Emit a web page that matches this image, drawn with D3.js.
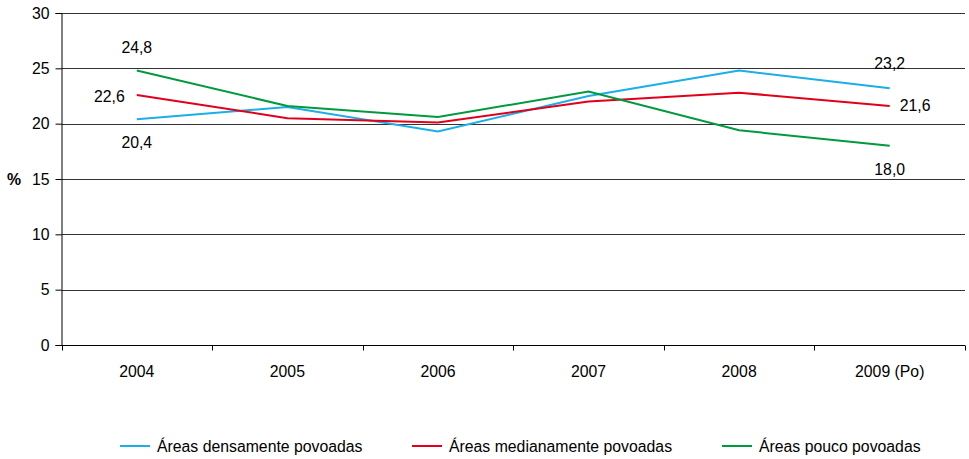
<!DOCTYPE html>
<html><head><meta charset="utf-8">
<script src="https://cdn.jsdelivr.net/npm/d3@7"></script>
<style>body{margin:0;background:#fff}svg{font-family:"Liberation Sans",Arial,sans-serif}</style>
</head><body><svg id="c" width="969" height="459"></svg>
<script>
const categories = ["2004","2005","2006","2007","2008","2009 (Po)"];
const seriesNames = ["Áreas densamente povoadas","Áreas medianamente povoadas","Áreas pouco povoadas"];
const densas = [20.4,21.5,19.3,22.5,24.8,23.2];
const medias = [22.6,20.5,20.1,22.0,22.8,21.6];
const poucas = [24.8,21.6,20.6,22.9,19.4,18.0];
const yTicks = [0,5,10,15,20,25,30];
const colors = ["#1AAFE6","#E0001B","#009A3E"];

const FS = 15.8;
const svg = d3.select("#c");
const L=61.5, R=965, T=13, B=345;
const x = d3.scaleBand().domain(categories).range([L,R]);
const y = d3.scaleLinear().domain([0,30]).range([B,T]);

// grid
svg.append("g").selectAll("line").data(yTicks.filter(d=>d>0)).join("line")
  .attr("x1",L).attr("x2",R).attr("y1",d=>Math.round(y(d))+0.5).attr("y2",d=>Math.round(y(d))+0.5)
  .attr("stroke","#333").attr("stroke-width",1);

const yAxis = svg.append("g").attr("transform",`translate(${L},0)`)
  .call(d3.axisLeft(y).tickValues(yTicks).tickSize(6).tickPadding(6));
yAxis.select(".domain").attr("stroke","#000");
yAxis.selectAll("text").attr("font-size",FS).attr("fill","#000");
const xAxis = svg.append("g").attr("transform",`translate(0,${Math.round(y(0))+0.5})`)
  .call(d3.axisBottom(x).tickSize(0).tickPadding(0));
xAxis.select(".domain").attr("stroke","#000").attr("d",`M${L},0H${R}`);
xAxis.selectAll("text").attr("font-size",FS).attr("fill","#000").attr("dy",null).attr("y",31);
// x ticks at band boundaries
const bounds = categories.map(c=>x(c)).concat([R]);
xAxis.append("g").selectAll("line").data(bounds).join("line")
  .attr("x1",d=>Math.round(d)+0.5).attr("x2",d=>Math.round(d)+0.5).attr("y1",0).attr("y2",5).attr("stroke","#000");

svg.append("text").attr("x",7).attr("y",185).attr("font-size",FS).attr("font-weight","bold").text("%");

const data = [densas,medias,poucas];
const line = d3.line().x((d,i)=>x(categories[i])+x.bandwidth()/2).y(d=>y(d));
svg.append("g").selectAll("path").data(data).join("path")
  .attr("d",line).attr("fill","none").attr("stroke",(d,i)=>colors[i]).attr("stroke-width",2);

// data labels
const fmt = v => v.toFixed(1).replace(".",",");
const cx = i => x(categories[i])+x.bandwidth()/2;
const labels = [
  {s:2,i:0,dx:0,dy:-18,anchor:"middle"},
  {s:1,i:0,dx:-12,dy:7,anchor:"end"},
  {s:0,i:0,dx:0,dy:29,anchor:"middle"},
  {s:0,i:5,dx:0,dy:-19,anchor:"middle"},
  {s:1,i:5,dx:10,dy:5,anchor:"start"},
  {s:2,i:5,dx:0,dy:29,anchor:"middle"}
];
svg.append("g").selectAll("text").data(labels).join("text")
  .attr("x",d=>cx(d.i)+d.dx).attr("y",d=>y(data[d.s][d.i])+d.dy)
  .attr("text-anchor",d=>d.anchor).attr("font-size",FS).attr("fill","#000")
  .text(d=>fmt(data[d.s][d.i]));

// legend
const legX = [120,412,722];
const lg = svg.append("g").selectAll("g").data(seriesNames).join("g")
  .attr("transform",(d,i)=>`translate(${legX[i]},446)`);
lg.append("line").attr("x1",0).attr("x2",30).attr("y1",0).attr("y2",0)
  .attr("stroke",(d,i)=>colors[i]).attr("stroke-width",2);
lg.append("text").attr("x",37).attr("y",6).attr("font-size",FS).attr("fill","#000").text(d=>d);
</script></body></html>
